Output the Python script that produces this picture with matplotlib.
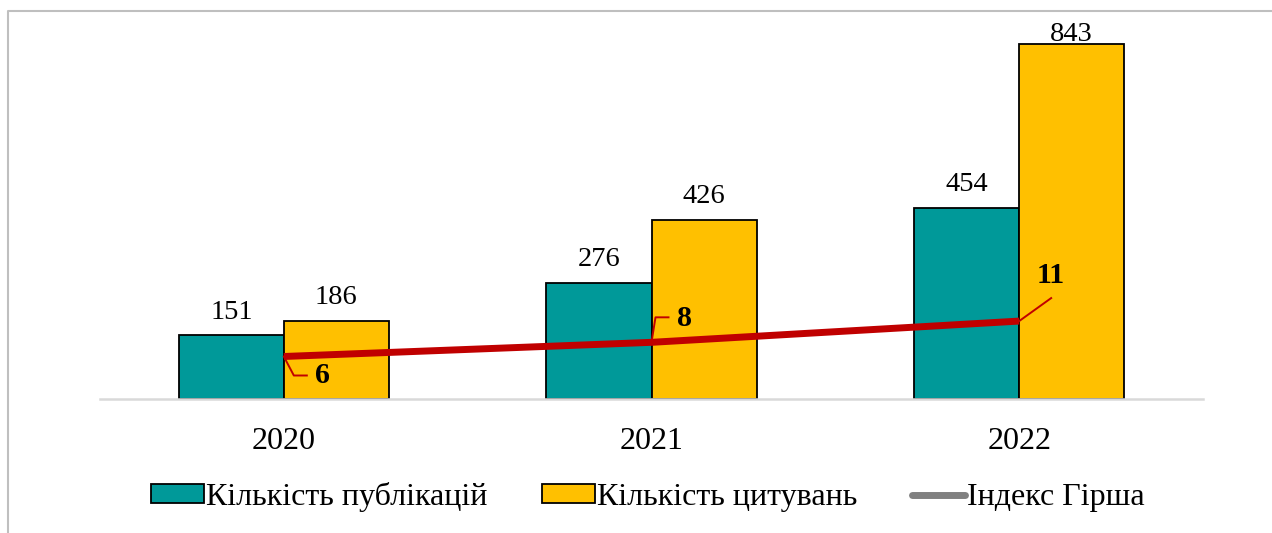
import matplotlib
matplotlib.use("Agg")
import matplotlib.pyplot as plt
from matplotlib.lines import Line2D
import numpy as np

plt.rcParams['font.family'] = ['Liberation Serif', 'DejaVu Serif']

years = ["2020", "2021", "2022"]
publications = [151, 276, 454]
citations = [186, 426, 843]
h_index = [6, 8, 11]
labels = ["Кількість публікацій", "Кількість цитувань", "Індекс Гірша"]

TEAL = "#009999"
GOLD = "#FFC000"
RED = "#C00000"

W, H = 1272, 533
fig = plt.figure(figsize=(W / 100, H / 100), dpi=100)

# axes placement in pixels
left_px, right_px, top_px, bottom_px = 100, 1203, 20, 399
ax = fig.add_axes([left_px / W, 1 - bottom_px / H, (right_px - left_px) / W, (bottom_px - top_px) / H])
ax2 = ax.twinx()

x = np.arange(len(years))
bw = 0.2856
b1 = ax.bar(x - bw / 2, publications, bw, color=TEAL, edgecolor="black", linewidth=1.3, zorder=2)
b2 = ax.bar(x + bw / 2, citations, bw, color=GOLD, edgecolor="black", linewidth=1.3, zorder=2)
ax.set_xlim(-0.5, 2.5)
ax.set_ylim(0, 900)
ax2.set_ylim(0, 53.5)

ymax = ax.get_ylim()[1]
for bars, vals in ((b1, publications), (b2, citations)):
    for r, v in zip(bars, vals):
        off = 12 if v < 0.85 * ymax else 2.5
        ax.annotate(str(v), (r.get_x() + r.get_width() / 2, r.get_height()),
                    xytext=(0, off), textcoords="offset points",
                    ha="center", va="baseline", fontsize=20.5, color="black")

ln, = ax2.plot(x, h_index, color=RED, linewidth=5, solid_capstyle="butt", zorder=5)

for a in (ax, ax2):
    for s in a.spines.values():
        s.set_visible(False)
    a.set_yticks([])
ax.spines["bottom"].set_visible(True)
ax.spines["bottom"].set_color("#D9D9D9")
ax.spines["bottom"].set_linewidth(1.8)
ax.set_xticks(x)
ax.set_xticklabels(years, fontsize=23)
ax.tick_params(axis="x", length=0, pad=20)
ax.set_zorder(1)
ax2.set_zorder(2)
ax.patch.set_visible(False)
ax2.patch.set_visible(False)

# leader lines and bold labels for Hirsch index (pixel offsets)
leaders = [
    [(0, 0), (10, -19), (23, -19)],
    [(0, 0), (4, 25), (17, 25)],
    [(0, 0), (32, 23)],
]
text_off = [(39, -19), (33, 24), (32, 46)]
fig.canvas.draw()
for xi, yi, path, toff, v in zip(x, h_index, leaders, text_off, h_index):
    px, py = ax2.transData.transform((xi, yi))
    xs = [px + dx for dx, dy in path]
    ys = [py + dy for dx, dy in path]
    fig.add_artist(Line2D(xs, ys, transform=None, color=RED, linewidth=1.4, zorder=6))
    fig.text(px + toff[0], py + toff[1], str(v), transform=None, ha="center", va="center",
             fontsize=21.5, fontweight="bold", color="black", zorder=7)

# legend
handles = [
    plt.Rectangle((0, 0), 1, 1, facecolor=TEAL, edgecolor="black", linewidth=1.3),
    plt.Rectangle((0, 0), 1, 1, facecolor=GOLD, edgecolor="black", linewidth=1.3),
    Line2D([0], [0], color="#808080", linewidth=5, solid_capstyle="round"),
]
fig.legend(handles, labels, loc="center", bbox_to_anchor=(648 / W, 1 - 497 / H),
           ncol=3, frameon=False, fontsize=23, handlelength=1.65, handleheight=0.55,
           handletextpad=0.08, columnspacing=1.7, borderaxespad=0, borderpad=0)

# chart border (partly cropped)
fig.add_artist(Line2D([8 / W, 8 / W, 1.01], [-0.01, 1 - 11 / H, 1 - 11 / H],
                      transform=fig.transFigure, color="#BFBFBF", linewidth=1.5))

fig.savefig("out.png", dpi=100)
